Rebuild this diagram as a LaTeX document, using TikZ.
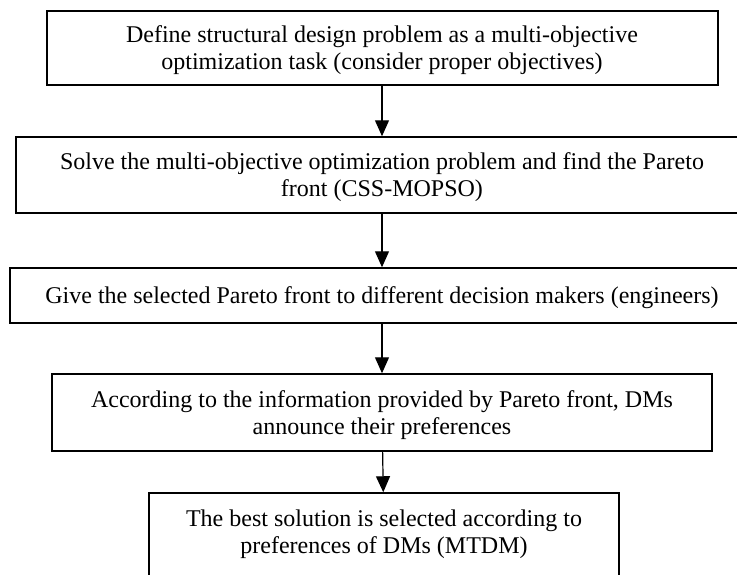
\documentclass[tikz,border=0pt]{standalone}
\usepackage{fontspec}
\setmainfont{Liberation Serif}
\usetikzlibrary{arrows.meta}

\begin{document}
\begin{tikzpicture}[x=1pt, y=-1pt, >={Triangle[length=16pt,width=14pt]},
	main box/.style={draw, line width=1.5pt, align=center, inner sep=0pt, text depth=0pt, font=\fontsize{24}{27}\selectfont}]
	    \clip (0,0) rectangle (737,574);
	    \node[main box, line width=2pt, minimum width=671pt, minimum height=74pt](1) at (382,48)
	        {Define structural design problem as a multi-objective\\optimization task (consider proper objectives)};
	    \node[main box, minimum width=732pt, minimum height=76pt](2) at (382,175)
	        {Solve the multi-objective optimization problem and find the Pareto\\front (CSS-MOPSO)};
	    \node[main box, minimum width=744pt, minimum height=55pt](3) at (382,295.5)
	        {Give the selected Pareto front to different decision makers (engineers)};
	    \node[main box, minimum width=660pt, minimum height=77pt](4) at (382,412.5)
	        {According to the information provided by Pareto front, DMs\\announce their preferences};
	    \node[main box, text depth=12pt, minimum width=470pt, minimum height=90pt](5) at (384,538)
	        {The best solution is selected according to\\preferences of DMs (MTDM)};
	    \foreach \a/\b in {1/2,2/3,3/4,4/5}
	        \draw[->, line width=1.2pt] (\a) -- (\b);
\end{tikzpicture}
\end{document}
